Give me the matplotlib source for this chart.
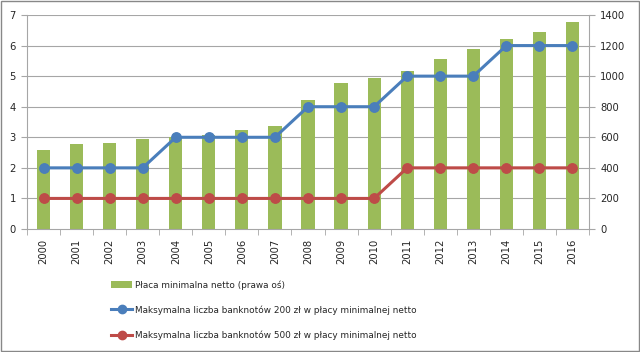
import matplotlib
matplotlib.use("Agg")
import matplotlib.pyplot as plt
import numpy as np
from matplotlib.patches import Patch
from matplotlib.lines import Line2D

years = ["2000", "2001", "2002", "2003", "2004", "2005", "2006", "2007", "2008",
         "2009", "2010", "2011", "2012", "2013", "2014", "2015", "2016"]
wage_net = [514, 556, 565, 589, 600, 615, 648, 674, 844, 953, 986, 1033, 1114, 1180, 1240, 1289, 1354]
notes_200 = [2, 2, 2, 2, 3, 3, 3, 3, 4, 4, 4, 5, 5, 5, 6, 6, 6]
notes_500 = [1, 1, 1, 1, 1, 1, 1, 1, 1, 1, 1, 2, 2, 2, 2, 2, 2]

label_bar = "Płaca minimalna netto (prawa oś)"
label_200 = "Maksymalna liczba banknotów 200 zł w płacy minimalnej netto"
label_500 = "Maksymalna liczba banknotów 500 zł w płacy minimalnej netto"

green = "#9BBB59"
blue = "#4A7EBB"
red = "#BE4B48"
grid_c = "#A6A6A6"
tick_c = "#262626"

plt.rcParams['font.family'] = ['DejaVu Sans']

fig = plt.figure(figsize=(6.4, 3.52), dpi=100)
ax = fig.add_axes([27/640, 1-229/352, (589-27)/640, (229-15)/352])
ax2 = ax.twinx()

x = np.arange(len(years))
ax2.bar(x, wage_net, width=0.4, color=green, zorder=2)
ax2.set_ylim(0, 1400)
ax2.set_yticks(np.arange(0, 1401, 200))

ax.set_zorder(ax2.get_zorder() + 1)
ax.patch.set_visible(False)
ax.plot(x, notes_200, color=blue, lw=2.2, marker='o', ms=6.8, zorder=3)
ax.plot(x, notes_500, color=red, lw=2.2, marker='o', ms=6.8, zorder=3)
ax.set_ylim(0, 7)
ax.set_yticks(range(0, 8))
ax.set_xlim(-0.5, len(years) - 0.5)

for v in range(1, 8):
    ax2.axhline(v * 200, color=grid_c, lw=0.8, zorder=1)

ax.set_xticks(x)
ax.set_xticklabels(years, rotation=90, fontsize=7.2, color=tick_c)
ax.set_xticks(np.arange(-0.5, len(years), 1), minor=True)
ax.tick_params(axis='x', which='major', length=0, pad=7)
ax.tick_params(axis='x', which='minor', length=4, color=grid_c, direction='out')
ax.tick_params(axis='y', length=4, color=grid_c, labelsize=7.2, labelcolor=tick_c, pad=4)
ax2.tick_params(axis='y', length=4, color=grid_c, labelsize=7.2, labelcolor=tick_c, pad=4)
ax2.tick_params(axis='x', which='both', bottom=False, labelbottom=False)

for a in (ax, ax2):
    for s in a.spines.values():
        s.set_visible(False)
ax.spines['left'].set_visible(True)
ax.spines['left'].set_color(grid_c)
ax.spines['bottom'].set_visible(True)
ax.spines['bottom'].set_color(grid_c)
ax2.spines['right'].set_visible(True)
ax2.spines['right'].set_color(grid_c)

handles = [
    Patch(facecolor=green, edgecolor='none'),
    Line2D([0], [0], color=blue, lw=2.2, marker='o', ms=6),
    Line2D([0], [0], color=red, lw=2.2, marker='o', ms=6),
]
leg = fig.legend(handles, [label_bar, label_200, label_500],
                 loc='upper left', bbox_to_anchor=(111/640, 1-280/352),
                 frameon=False, fontsize=6.4, labelspacing=1.75,
                 handlelength=2.4, handletextpad=0.25, borderaxespad=0,
                 borderpad=0)
for t in leg.get_texts():
    t.set_color(tick_c)

fig.patches.append(plt.Rectangle((0.001, 0.002), 0.997, 0.995, transform=fig.transFigure,
                                 fill=False, edgecolor='#888888', lw=1.0))

fig.savefig("out.png", dpi=100)
